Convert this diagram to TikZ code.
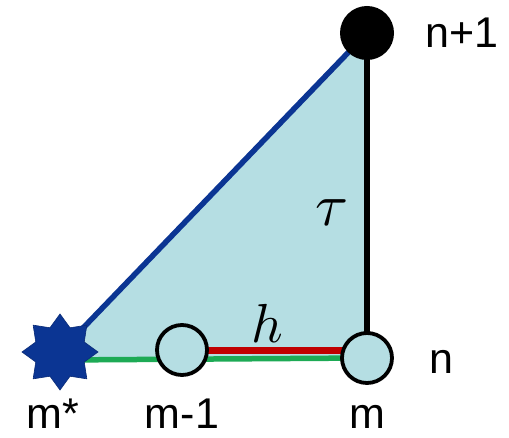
\documentclass[tikz,border=0pt]{standalone}
\usepackage{fontspec}
\setmainfont{Liberation Sans}
\usepackage{graphicx}
\usetikzlibrary{shapes.geometric,backgrounds}
\definecolor{fillblue}{HTML}{B5DEE3}
\definecolor{darkblue}{HTML}{0B3593}
\definecolor{lgreen}{HTML}{1DAA55}
\definecolor{dred}{HTML}{C00000}
\tikzset{
  ring/.style={circle, draw=black, line width=3.8pt, fill=fillblue, minimum size=50pt, inner sep=0pt},
  dot/.style={circle, fill=black, minimum size=54pt, inner sep=0pt},
  starshape/.style={star, star points=8, star point ratio=1.45, fill=darkblue, draw=darkblue!80!black, line width=0.6pt, minimum size=76pt, inner sep=0pt},
  lbl/.style={anchor=base, font=\fontsize{43}{46}\selectfont, inner sep=0pt},
  mathlbl/.style={inner sep=0pt}
}
\begin{document}
\begin{tikzpicture}[x=1pt,y=1pt]
\useasboundingbox (0,0) rectangle (509,437);
\node[starshape] (st) at (60,85) {};
\node[dot] (top) at (367,404) {};
\node[ring] (mm) at (182,87) {};
\node[ring] (m) at (367,79) {};
\coordinate (gL) at (60,77);
\coordinate (gR) at (367,79);
\begin{scope}[on background layer]
\fill[fillblue] (st.center) -- (top.center) -- (gR) -- (gL) -- cycle;
\draw[darkblue, line width=5.5pt] (st.center) -- (top.center);
\draw[black, line width=6.5pt] (top.center) -- (m.center);
\draw[lgreen, line width=5.5pt] (gL) -- (gR);
\draw[dred, line width=7pt] (mm.center) -- (mm.center -| m.center);
\end{scope}
% labels
\node[lbl] (lms) at (53,9) {m*};
\node[lbl] (lmm) at (182,9) {m-1};
\node[lbl] (lm) at (367,9) {m};
\node[lbl] (ln) at (441,64) {n};
\node[lbl] (ln1) at (462,389) {n+1};
\node[mathlbl] (tau) at (332,224) {\scalebox{6}{$\tau$}};
\node[mathlbl, anchor=base] (h) at (267,94) {\scalebox{5.5}{$h$}};
\end{tikzpicture}
\end{document}
